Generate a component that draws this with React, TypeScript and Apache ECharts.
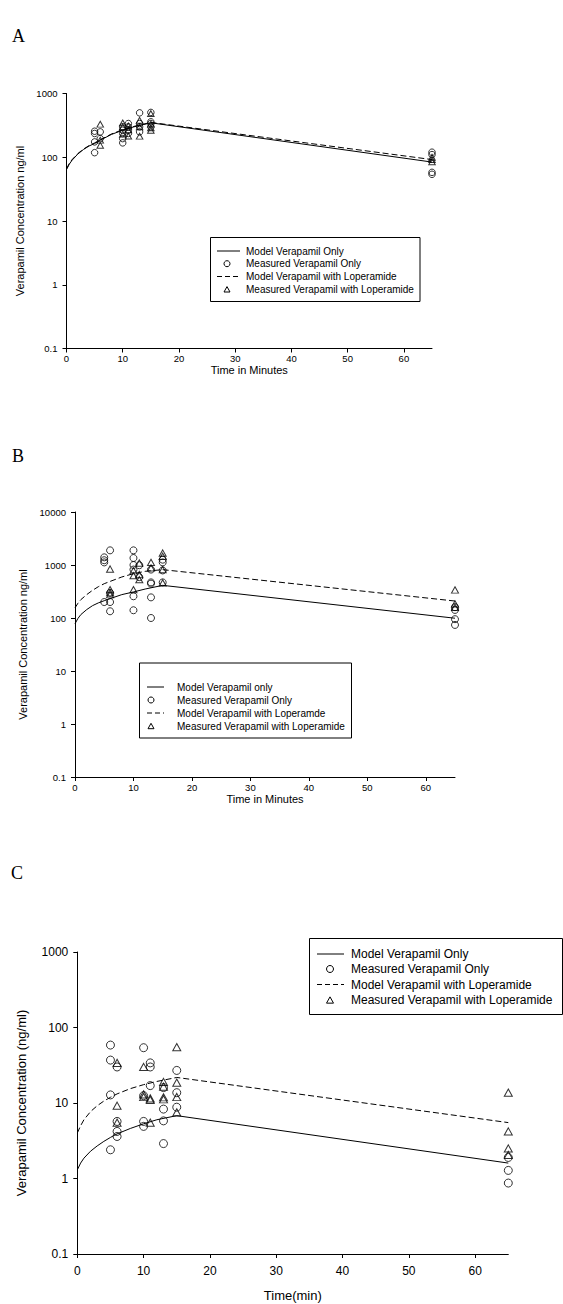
import React, { useEffect, useRef } from "react";
import * as echarts from "echarts";

// ---------- DATA ----------
const xTicks = [0, 10, 20, 30, 40, 50, 60];
const yTicksA = [0.1, 1, 10, 100, 1000];
const yTicksB = [0.1, 1, 10, 100, 1000, 10000];
const yTicksC = [0.1, 1, 10, 100, 1000];

const tModel = [0, 0.5, 1, 2, 3, 4, 5, 6, 8, 10, 12, 15, 65];

// Panel A
const aModelOnly = [64, 78, 90, 112, 132, 150, 164, 185, 228, 266, 300, 347, 84];
const aModelLop = [66, 80, 92, 114, 134, 152, 168, 188, 232, 270, 305, 352, 92];
const aMeasOnly: [number, number][] = [
  [5, 256], [5, 236], [5, 174], [5, 118], [6, 250], [6, 196],
  [10, 300], [10, 265], [10, 236], [10, 196], [10, 168],
  [11, 338], [11, 300], [11, 265], [11, 236],
  [13, 497], [13, 338], [13, 300], [13, 250],
  [15, 505], [15, 360], [15, 338], [15, 300],
  [65, 120], [65, 110], [65, 58], [65, 54],
];
const aMeasLop: [number, number][] = [
  [6, 330], [6, 185], [6, 154],
  [10, 346], [10, 300], [10, 230],
  [11, 310], [11, 270], [11, 215],
  [13, 380], [13, 300], [13, 214],
  [15, 484], [15, 330], [15, 290], [15, 265],
  [65, 100], [65, 92], [65, 85],
];

// Panel B
const bModelOnly = [78, 98, 116, 144, 171, 193, 212, 232, 276, 310, 352, 413, 99];
const bModelLop = [155, 190, 222, 276, 333, 390, 444, 490, 594, 686, 760, 817, 209];
const bMeasOnly: [number, number][] = [
  [5, 1395], [5, 1230], [5, 1120], [5, 200],
  [6, 1890], [6, 297], [6, 200], [6, 134],
  [10, 1890], [10, 1355], [10, 1000], [10, 820], [10, 257], [10, 140],
  [11, 990], [11, 590],
  [13, 820], [13, 470], [13, 445], [13, 245], [13, 100],
  [15, 1260], [15, 1120], [15, 790], [15, 470],
  [65, 160], [65, 142], [65, 95], [65, 74],
];
const bMeasLop: [number, number][] = [
  [6, 840], [6, 343], [6, 300], [6, 275],
  [10, 780], [10, 630], [10, 343],
  [11, 1090], [11, 660], [11, 530],
  [13, 1120], [13, 880],
  [15, 1680], [15, 1460], [15, 820], [15, 460],
  [65, 338], [65, 184], [65, 159],
];

// Panel C
const cModelOnly = [1.3, 1.6, 1.86, 2.3, 2.7, 3.1, 3.5, 3.9, 4.6, 5.3, 6.0, 6.8, 1.6];
const cModelLop = [4.0, 5.0, 6.0, 7.7, 9.2, 10.6, 11.9, 13.2, 15.5, 17.5, 19.3, 21.8, 5.5];
const cMeasOnly: [number, number][] = [
  [5, 58.5], [5, 37], [5, 12.8], [5, 2.4],
  [6, 30], [6, 5.7], [6, 4.2], [6, 3.6],
  [10, 54], [10, 12.5], [10, 5.7], [10, 4.9],
  [11, 34], [11, 30], [11, 17],
  [13, 16], [13, 8.3], [13, 5.8], [13, 2.9],
  [15, 27], [15, 13.7], [15, 8.8],
  [65, 1.9], [65, 1.28], [65, 0.87],
];
const cMeasLop: [number, number][] = [
  [6, 34], [6, 9.2], [6, 5.5],
  [10, 30], [10, 13], [10, 12],
  [11, 11.5], [11, 11], [11, 5.5],
  [13, 19], [13, 16.5], [13, 11.9], [13, 11.2],
  [15, 55], [15, 18.6], [15, 12], [15, 7.5],
  [65, 13.7], [65, 4.2], [65, 2.5], [65, 2.05],
];

const legendA = ["Model Verapamil Only", "Measured Verapamil Only", "Model Verapamil with Loperamide", "Measured Verapamil with Loperamide"];
const legendB = ["Model Verapamil only", "Measured Verapamil Only", "Model Verapamil with Loperamde", "Measured Verapamil with Loperamide"];
const legendC = ["Model Verapamil Only", "Measured Verapamil Only", "Model Verapamil with Loperamide", "Measured Verapamil with Loperamide"];

const SANS = "Liberation Sans, Arial, sans-serif";
const SERIF = "Liberation Serif, Times New Roman, serif";

type PanelCfg = {
  grid: { left: number; top: number; width: number; height: number };
  yMin: number; yMax: number; yTicks: number[];
  xName: string; yName: string;
  tickFont: number; nameFont: number;
  xLabelMargin: number; yLabelMargin: number; xNameGap: number; yNameGap: number;
  symbolSize: number;
};

const panels: PanelCfg[] = [
  {
    grid: { left: 66.5, top: 93.5, width: 365.5, height: 255 },
    yMin: 0.1, yMax: 1000, yTicks: yTicksA,
    xName: "Time in Minutes", yName: "Verapamil Concentration ng/ml",
    tickFont: 9.5, nameFont: 11, xLabelMargin: 5, yLabelMargin: 9, xNameGap: 16, yNameGap: 39, symbolSize: 6.5,
  },
  {
    grid: { left: 75, top: 512, width: 380, height: 265 },
    yMin: 0.1, yMax: 10000, yTicks: yTicksB,
    xName: "Time in Minutes", yName: "Verapamil Concentration ng/ml",
    tickFont: 9.5, nameFont: 11, xLabelMargin: 5, yLabelMargin: 9, xNameGap: 16, yNameGap: 47, symbolSize: 7,
  },
  {
    grid: { left: 77.3, top: 952, width: 431, height: 302 },
    yMin: 0.1, yMax: 1000, yTicks: yTicksC,
    xName: "Time(min)", yName: "Verapamil Concentration (ng/ml)",
    tickFont: 12, nameFont: 13, xLabelMargin: 11, yLabelMargin: 9, xNameGap: 35, yNameGap: 49, symbolSize: 8,
  },
];

const modelSets = [
  [aModelOnly, aModelLop],
  [bModelOnly, bModelLop],
  [cModelOnly, cModelLop],
];
const measSets = [
  [aMeasOnly, aMeasLop],
  [bMeasOnly, bMeasLop],
  [cMeasOnly, cMeasLop],
];

function legendGraphic(
  box: { x: number; y: number; w: number; h: number },
  rows: number[], lineX: [number, number], markX: number, textX: number,
  labels: string[], font: number, mark: number
) {
  const els: any[] = [];
  els.push({
    type: "rect", silent: true,
    shape: { x: box.x, y: box.y, width: box.w, height: box.h },
    style: { fill: "#fff", stroke: "#000", lineWidth: 1 },
  });
  rows.forEach((ry, i) => {
    if (i === 0 || i === 2) {
      els.push({
        type: "line", silent: true,
        shape: { x1: lineX[0], y1: ry, x2: lineX[1], y2: ry },
        style: { stroke: "#000", lineWidth: 1, lineDash: i === 2 ? [5, 3] : null },
      });
    } else if (i === 1) {
      els.push({
        type: "circle", silent: true,
        shape: { cx: markX, cy: ry, r: mark / 2 },
        style: { fill: "none", stroke: "#000", lineWidth: 1 },
      });
    } else {
      const h = mark * 0.9;
      els.push({
        type: "polygon", silent: true,
        shape: { points: [[markX, ry - h / 2], [markX + mark / 2, ry + h / 2], [markX - mark / 2, ry + h / 2]] },
        style: { fill: "none", stroke: "#000", lineWidth: 1 },
      });
    }
    els.push({
      type: "text", silent: true,
      style: { text: labels[i], x: textX, y: ry, fill: "#000", fontSize: font, fontFamily: SANS, verticalAlign: "middle", align: "left" },
    });
  });
  return els;
}

export default function App() {
  const ref = useRef<HTMLDivElement>(null);
  useEffect(() => {
    document.body.style.margin = "0";
    if (!ref.current) return;
    const chart = echarts.init(ref.current, null, { renderer: "svg" });

    const grids = panels.map((p) => ({ ...p.grid, containLabel: false }));
    const xAxes = panels.map((p, i) => ({
      type: "value", gridIndex: i, min: 0, max: 65, interval: 10,
      axisLine: { show: true, onZero: false, lineStyle: { color: "#000", width: 1 } },
      axisTick: { show: true, inside: false, length: 4, customValues: xTicks, lineStyle: { color: "#000", width: 1 } },
      axisLabel: { customValues: xTicks, color: "#000", fontSize: p.tickFont, fontFamily: SANS, margin: p.xLabelMargin },
      splitLine: { show: false },
      name: p.xName, nameLocation: "middle", nameGap: p.xNameGap,
      nameTextStyle: { color: "#000", fontSize: p.nameFont, fontFamily: SANS },
    }));
    const yAxes = panels.map((p, i) => ({
      type: "log", logBase: 10, gridIndex: i, min: p.yMin, max: p.yMax,
      axisLine: { show: true, onZero: false, lineStyle: { color: "#000", width: 1 } },
      axisTick: { show: true, inside: false, length: 4, customValues: p.yTicks, lineStyle: { color: "#000", width: 1 } },
      axisLabel: {
        customValues: p.yTicks, color: "#000", fontSize: p.tickFont, fontFamily: SANS, margin: p.yLabelMargin,
        formatter: (v: number) => String(+Number(v).toPrecision(4)),
      },
      minorTick: { show: false },
      splitLine: { show: false },
      name: p.yName, nameLocation: "middle", nameGap: p.yNameGap, nameRotate: 90,
      nameTextStyle: { color: "#000", fontSize: p.nameFont, fontFamily: SANS },
    }));

    const series: any[] = [];
    panels.forEach((p, i) => {
      const [mOnly, mLop] = modelSets[i];
      const [sOnly, sLop] = measSets[i];
      series.push({
        type: "line", xAxisIndex: i, yAxisIndex: i, showSymbol: false, symbol: "none",
        data: tModel.map((t, k) => [t, mOnly[k]]),
        lineStyle: { color: "#000", width: 1, type: "solid" }, z: 3,
      });
      series.push({
        type: "line", xAxisIndex: i, yAxisIndex: i, showSymbol: false, symbol: "none",
        data: tModel.map((t, k) => [t, mLop[k]]),
        lineStyle: { color: "#000", width: 1, type: [6, 3] }, z: 3,
      });
      series.push({
        type: "scatter", xAxisIndex: i, yAxisIndex: i, symbol: "circle", symbolSize: p.symbolSize,
        data: sOnly,
        itemStyle: { color: "rgba(0,0,0,0)", borderColor: "#000", borderWidth: 1 }, z: 4,
      });
      series.push({
        type: "scatter", xAxisIndex: i, yAxisIndex: i, symbol: "triangle", symbolSize: [p.symbolSize, p.symbolSize * 0.9],
        data: sLop,
        itemStyle: { color: "rgba(0,0,0,0)", borderColor: "#000", borderWidth: 1 }, z: 4,
      });
    });

    const graphics: any[] = [
      { type: "text", silent: true, style: { text: "A", x: 12, y: 36, fill: "#000", fontSize: 18, fontFamily: SERIF, verticalAlign: "middle" } },
      { type: "text", silent: true, style: { text: "B", x: 12, y: 456, fill: "#000", fontSize: 18, fontFamily: SERIF, verticalAlign: "middle" } },
      { type: "text", silent: true, style: { text: "C", x: 11, y: 873, fill: "#000", fontSize: 18, fontFamily: SERIF, verticalAlign: "middle" } },
      ...legendGraphic({ x: 210.5, y: 237.5, w: 209.5, h: 64 }, [251, 263.7, 276.5, 289.3], [217, 240], 227, 246, legendA, 10, 6),
      ...legendGraphic({ x: 139.5, y: 663, w: 212, h: 75 }, [687, 700, 713, 726], [147, 164], 151, 177, legendB, 10, 6),
      ...legendGraphic({ x: 309.5, y: 938.5, w: 253, h: 76 }, [954, 969, 984.5, 1000], [317, 344], 330, 351, legendC, 12, 7),
    ];

    chart.setOption({
      animation: false,
      backgroundColor: "#fff",
      grid: grids,
      xAxis: xAxes,
      yAxis: yAxes,
      series,
      graphic: { elements: graphics },
    });
    return () => chart.dispose();
  }, []);
  return <div ref={ref} style={{ width: 563, height: 1304 }} />;
}
